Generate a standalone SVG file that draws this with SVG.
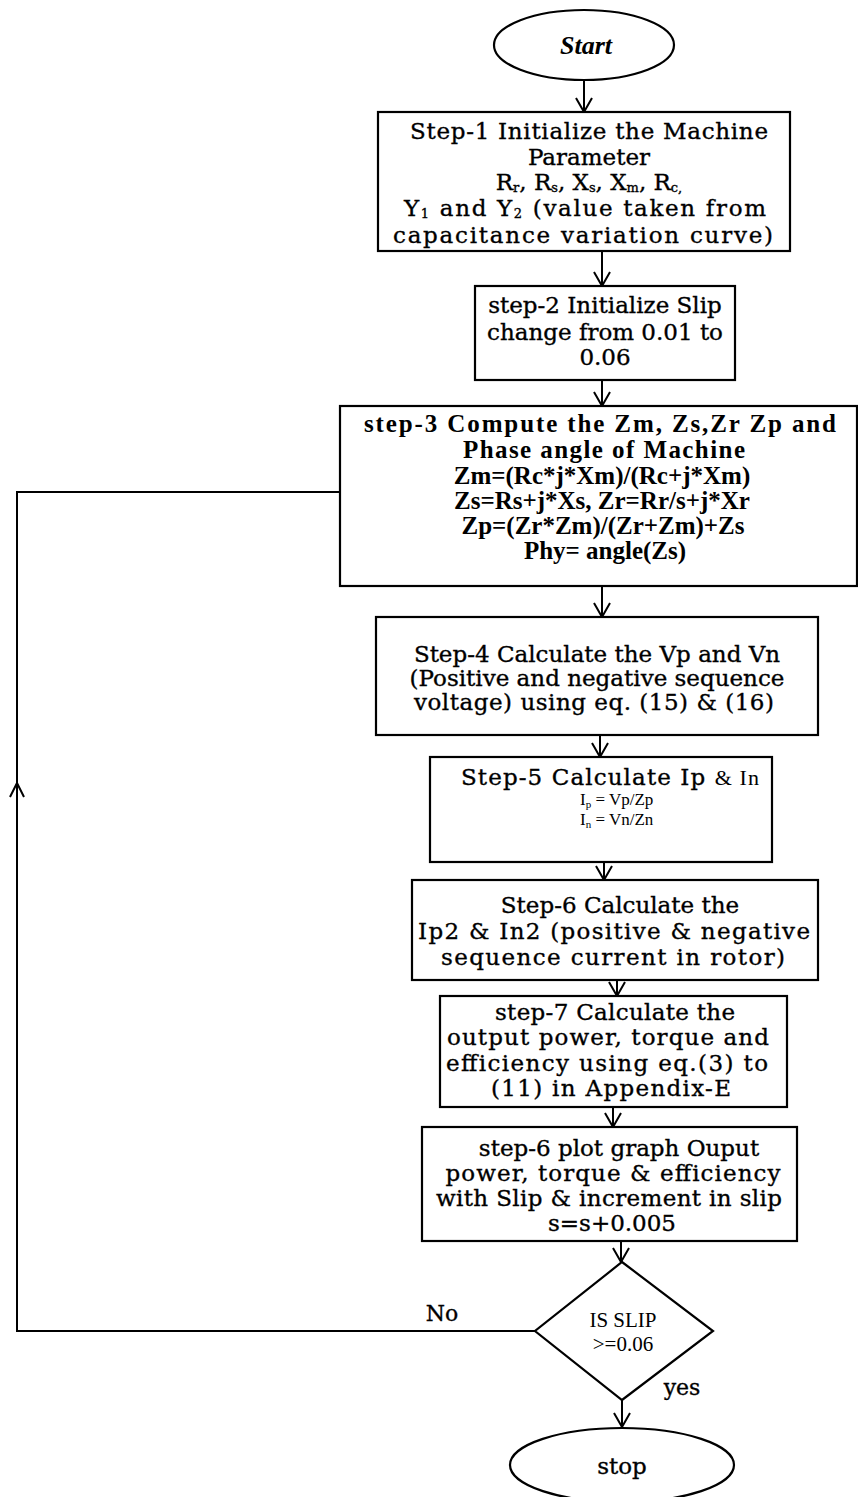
<svg xmlns="http://www.w3.org/2000/svg" width="858" height="1497" viewBox="0 0 858 1497">
<defs>
<marker id="v" viewBox="0 0 16 20" refX="15" refY="10" markerWidth="16" markerHeight="20" markerUnits="userSpaceOnUse" orient="auto">
<path d="M1,2 L15,10 L1,18" fill="none" stroke="#000" stroke-width="2"/>
</marker>
<style>
.box{fill:#fff;stroke:#000;stroke-width:2.2}
.ln{fill:none;stroke:#000;stroke-width:2}
.bk{font-family:"DejaVu Serif","Liberation Serif",serif;font-size:23px;fill:#000;stroke:#000;stroke-width:0.35;text-anchor:middle}
.tm{font-family:"Liberation Serif",serif;font-weight:bold;font-size:25px;fill:#000;text-anchor:middle}
.tr{font-family:"Liberation Serif",serif;font-size:21px;fill:#000;text-anchor:middle}
</style>
</defs>
<rect width="858" height="1497" fill="#fff"/>
<g id="connectors">
<line class="ln" x1="584" y1="80" x2="584" y2="112" marker-end="url(#v)"/>
<line class="ln" x1="602" y1="251" x2="602" y2="286" marker-end="url(#v)"/>
<line class="ln" x1="602" y1="380" x2="602" y2="406" marker-end="url(#v)"/>
<line class="ln" x1="602" y1="586" x2="602" y2="617" marker-end="url(#v)"/>
<line class="ln" x1="600" y1="735" x2="600" y2="757" marker-end="url(#v)"/>
<line class="ln" x1="604" y1="862" x2="604" y2="880" marker-end="url(#v)"/>
<line class="ln" x1="617" y1="980" x2="617" y2="996" marker-end="url(#v)"/>
<line class="ln" x1="613" y1="1107" x2="613" y2="1127" marker-end="url(#v)"/>
<line class="ln" x1="621" y1="1241" x2="621" y2="1262" marker-end="url(#v)"/>
<line class="ln" x1="622" y1="1400" x2="622" y2="1427" marker-end="url(#v)"/>
<polyline class="ln" points="535,1331 17,1331 17,492 340,492"/>
<path class="ln" d="M10,797 L17,783 L24,797"/>
<text x="442" y="1321" class="bk" style="font-size:22px">No</text>
<text x="682" y="1395" class="bk" style="font-size:22px">yes</text>
</g>
<g id="start">
<ellipse cx="584" cy="45" rx="90" ry="35" class="box"/>
<text x="586" y="54" class="tm" style="font-style:italic;font-size:26px">Start</text>
</g>
<g id="step1">
<rect x="378" y="112" width="412" height="139" class="box"/>
<text x="589" y="139" class="bk" textLength="358" lengthAdjust="spacing">Step-1 Initialize the Machine</text>
<text x="589" y="165" class="bk">Parameter</text>
<text x="589" y="190" class="bk">R<tspan font-size="13" dy="2">r</tspan><tspan dy="-2">, R</tspan><tspan font-size="13" dy="2">s</tspan><tspan dy="-2">, X</tspan><tspan font-size="13" dy="2">s</tspan><tspan dy="-2">, X</tspan><tspan font-size="13" dy="2">m</tspan><tspan dy="-2">, R</tspan><tspan font-size="13" dy="2">c,</tspan></text>
<text x="585" y="216" class="bk" textLength="362" lengthAdjust="spacing">Y<tspan font-size="13" dy="2">1</tspan><tspan dy="-2"> and Y</tspan><tspan font-size="13" dy="2">2</tspan><tspan dy="-2"> (value taken from</tspan></text>
<text x="583" y="243" class="bk" textLength="380" lengthAdjust="spacing">capacitance variation curve)</text>
</g>
<g id="step2">
<rect x="475" y="286" width="260" height="94" class="box"/>
<text x="605" y="313" class="bk">step-2 Initialize Slip</text>
<text x="605" y="340" class="bk">change from 0.01 to</text>
<text x="605" y="365" class="bk">0.06</text>
</g>
<g id="step3">
<rect x="340" y="406" width="517" height="180" class="box"/>
<text x="600" y="432" class="tm" textLength="472" lengthAdjust="spacing">step-3 Compute the Zm, Zs,Zr Zp and</text>
<text x="604" y="458" class="tm" textLength="282" lengthAdjust="spacing">Phase angle of Machine</text>
<text x="602" y="484" class="tm">Zm=(Rc*j*Xm)/(Rc+j*Xm)</text>
<text x="602" y="509" class="tm">Zs=Rs+j*Xs, Zr=Rr/s+j*Xr</text>
<text x="603" y="534" class="tm">Zp=(Zr*Zm)/(Zr+Zm)+Zs</text>
<text x="605" y="559" class="tm">Phy= angle(Zs)</text>
</g>
<g id="step4">
<rect x="376" y="617" width="442" height="118" class="box"/>
<text x="597" y="662" class="bk">Step-4 Calculate the Vp and Vn</text>
<text x="597" y="686" class="bk">(Positive and negative sequence</text>
<text x="594" y="710" class="bk" textLength="360" lengthAdjust="spacing">voltage) using eq. (15) &amp; (16)</text>
</g>
<g id="step5">
<rect x="430" y="757" width="342" height="105" class="box"/>
<text x="610" y="785" class="bk" textLength="298" lengthAdjust="spacing">Step-5 Calculate Ip <tspan style="font-family:'Liberation Serif',serif;stroke-width:0;font-size:22px">&amp; In</tspan></text>
<text x="580" y="805" class="tr" style="text-anchor:start;font-size:17px">I<tspan font-size="11" dy="3">p</tspan><tspan dy="-3"> = Vp/Zp</tspan></text>
<text x="580" y="825" class="tr" style="text-anchor:start;font-size:17px">I<tspan font-size="11" dy="3">n</tspan><tspan dy="-3"> = Vn/Zn</tspan></text>
</g>
<g id="step6">
<rect x="412" y="880" width="406" height="100" class="box"/>
<text x="620" y="913" class="bk">Step-6 Calculate the</text>
<text x="614" y="939" class="bk" textLength="392" lengthAdjust="spacing">Ip2 &amp; In2 (positive &amp; negative</text>
<text x="613" y="965" class="bk" textLength="344" lengthAdjust="spacing">sequence current in rotor)</text>
</g>
<g id="step7">
<rect x="440" y="996" width="347" height="111" class="box"/>
<text x="615" y="1020" class="bk" textLength="240" lengthAdjust="spacing">step-7 Calculate the</text>
<text x="608" y="1045" class="bk" textLength="322" lengthAdjust="spacing">output power, torque and</text>
<text x="607" y="1071" class="bk" textLength="322" lengthAdjust="spacing">efficiency using eq.(3) to</text>
<text x="611" y="1096" class="bk" textLength="240" lengthAdjust="spacing">(11) in Appendix-E</text>
</g>
<g id="step8">
<rect x="422" y="1127" width="375" height="114" class="box"/>
<text x="619" y="1156" class="bk">step-6 plot graph Ouput</text>
<text x="613" y="1181" class="bk" textLength="335" lengthAdjust="spacing">power, torque &amp; efficiency</text>
<text x="609" y="1206" class="bk" textLength="346" lengthAdjust="spacing">with Slip &amp; increment in slip</text>
<text x="612" y="1231" class="bk">s=s+0.005</text>
</g>
<g id="decision">
<polygon points="622,1262 713,1331 622,1400 535,1331" class="box"/>
<text x="623" y="1327" class="tr">IS SLIP</text>
<text x="623" y="1351" class="tr">&gt;=0.06</text>
</g>
<g id="stop">
<ellipse cx="622" cy="1465" rx="112" ry="37" class="box"/>
<text x="622" y="1474" class="bk">stop</text>
</g>
</svg>
